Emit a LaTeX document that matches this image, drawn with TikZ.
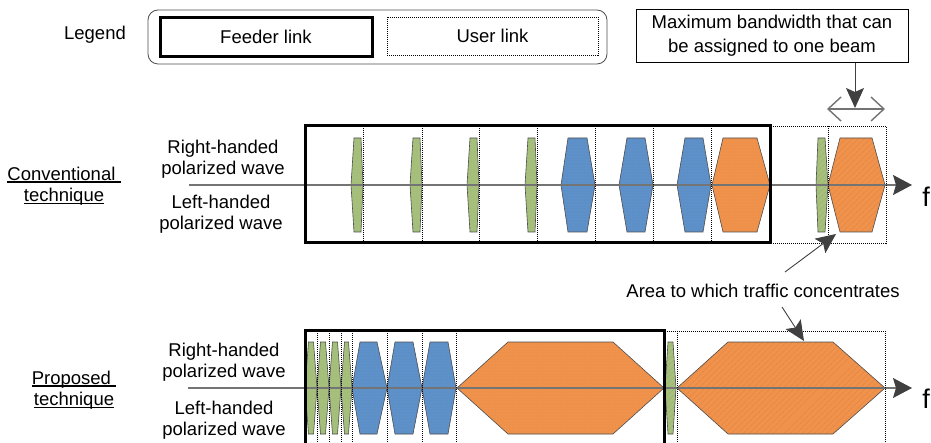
\documentclass[tikz,border=0pt]{standalone}
\usepackage{fontspec}
\setmainfont{Liberation Sans}
\usetikzlibrary{arrows.meta,patterns.meta}

\definecolor{bandgreen}{HTML}{A6C07C}
\definecolor{bandblue}{HTML}{5E91C9}
\definecolor{bandorange}{HTML}{F0924B}
\definecolor{outline}{HTML}{4D4D4D}
\definecolor{axisgray}{HTML}{747474}
\definecolor{tipgray}{HTML}{404040}

% hexagonal frequency band: x1, x2, left inset, right inset, mid y, half height, style
\newcommand\bandshape[7]{%
  \path[#7] (#1,#5) -- ({#1+#3},{#5-#6}) -- ({#2-#4},{#5-#6}) -- (#2,#5)
    -- ({#2-#4},{#5+#6}) -- ({#1+#3},{#5+#6}) -- cycle;}

% thick underline for the row titles
\newcommand\ulabel[1]{\setbox0=\hbox{#1}\rlap{\rule[-2.5pt]{\wd0}{1.2pt}}\box0}

\tikzset{
  lbl/.style={font=\fontsize{18.5}{21.5}\selectfont, align=center, inner sep=0pt},
  feederband/.style={draw=outline, line width=0.6pt, preaction={fill=#1},
    pattern={Dots[distance=3pt,radius=0.45pt]}, pattern color=#1!85!black},
  userband/.style={draw=outline, line width=0.6pt, preaction={fill=#1},
    pattern={Lines[angle=45,distance=4pt,line width=0.8pt]}, pattern color=#1!94!black},
  feederframe/.style={draw=black, line width=3pt},
  userframe/.style={draw=black, line width=0.7pt, dash pattern=on 1pt off 1pt},
  divider/.style={draw=black, line width=0.7pt, dash pattern=on 1pt off 1pt},
  axis/.style={draw=axisgray, line width=1.4pt,
    -{Stealth[length=19pt,width=20pt,inset=3pt,color=tipgray]}},
  pointer/.style={draw=tipgray, line width=0.9pt,
    -{Stealth[length=20pt,width=18pt,inset=4pt]}},
  span/.style={draw=black!55, line width=1.4pt,
    {Straight Barb[length=13pt,width=24pt]}-{Straight Barb[length=13pt,width=24pt]}},
}

\begin{document}
\begin{tikzpicture}[x=1pt,y=-1pt]
\useasboundingbox (0,0) rectangle (931,443);
\clip (0,0) rectangle (931,443);

% ---------------- legend ----------------
\node[lbl] (legend) at (95,35) {Legend};
\node[draw=black!70, line width=0.8pt, rounded corners=10pt,
      minimum width=459pt, minimum height=54pt] (legendframe) at (377.5,37) {};
\node[lbl, feederframe, minimum width=212pt, minimum height=39pt] (feederkey) at (266,37) {Feeder link};
\node[lbl, userframe, minimum width=211pt, minimum height=38pt] (userkey) at (492.5,36) {User link};

% ---------------- conventional technique ----------------
\bandshape{351}{363}{3}{2}{185}{47}{feederband=bandgreen}
\bandshape{410}{422}{3}{2}{185}{47}{feederband=bandgreen}
\bandshape{467}{479}{3}{2}{185}{47}{feederband=bandgreen}
\bandshape{525}{537}{3}{2}{185}{47}{feederband=bandgreen}
\bandshape{561}{595}{7}{8}{185}{47}{feederband=bandblue}
\bandshape{619}{653}{8}{8}{185}{47}{feederband=bandblue}
\bandshape{677}{711}{8}{8}{185}{47}{feederband=bandblue}
\bandshape{712}{770}{11}{13}{185}{47}{feederband=bandorange}
\bandshape{816}{828}{2}{3}{185}{47}{userband=bandgreen}
\bandshape{828}{885}{12}{13}{185}{47}{userband=bandorange}

\coordinate (convstart) at (189,185);
\coordinate (convend) at (912,185);
\draw[axis] (convstart) -- (convend);

\foreach \x in {363,422,479,537,595,653,711,828}
  \draw[divider] (\x,126) -- (\x,243);
\draw[userframe] (770,126) rectangle (886,243);
\draw[feederframe] (305,126) rectangle (770,243);

\node[font=\fontsize{27}{27}\selectfont, inner sep=0pt] (fconv) at (926,197) {f};
\node[lbl] (convtitle) at (64,186) {\ulabel{Conventional\ }\\\ulabel{technique}};
\node[lbl] (convrhcp) at (223,159) {Right-handed\\polarized wave};
\node[lbl] (convlhcp) at (221,214) {Left-handed\\polarized wave};

% ---------------- proposed technique ----------------
\bandshape{305}{317}{3.5}{3.5}{388}{46}{feederband=bandgreen}
\bandshape{317}{329}{3.5}{3.5}{388}{46}{feederband=bandgreen}
\bandshape{329}{341}{3.5}{3.5}{388}{46}{feederband=bandgreen}
\bandshape{341}{352}{3.5}{3.5}{388}{46}{feederband=bandgreen}
\bandshape{352}{387}{8}{10}{388}{46}{feederband=bandblue}
\bandshape{387}{422}{8}{9}{388}{46}{feederband=bandblue}
\bandshape{422}{456}{8}{8}{388}{46}{feederband=bandblue}
\bandshape{457}{664}{51}{51}{388}{46}{feederband=bandorange}
\bandshape{665}{676}{3}{3}{388}{46}{userband=bandgreen}
\bandshape{677}{885}{51}{52}{388}{46}{userband=bandorange}

\coordinate (propstart) at (188,388);
\coordinate (propend) at (912,388);
\draw[axis] (propstart) -- (propend);

\foreach \x in {317,329,341,352,387,422,456,677}
  \draw[divider] (\x,331) -- (\x,446);
\draw[userframe] (664,331) rectangle (885,446);
\draw[feederframe] (305,331) rectangle (664,446);

\node[font=\fontsize{27}{27}\selectfont, inner sep=0pt] (fprop) at (926,399) {f};
\node[lbl] (proptitle) at (74,390) {\ulabel{Proposed\ }\\\ulabel{technique}};
\node[lbl] (proprhcp) at (224,362) {Right-handed\\polarized wave};
\node[lbl] (proplhcp) at (224,420) {Left-handed\\polarized wave};

% ---------------- annotations ----------------
\node[lbl, draw=black, line width=0.8pt, minimum width=272pt, minimum height=53pt,
      font=\fontsize{18.5}{24}\selectfont] (maxbw) at (772,36)
      {Maximum bandwidth that can\\be assigned to one beam};
\coordinate (bwtip) at (855,108);
\coordinate (bwleft) at (827,109);
\coordinate (bwright) at (885,109);
\draw[span] (bwleft) -- (bwright);
\draw[pointer] (maxbw.south -| bwtip) -- (bwtip);

\node[lbl] (area) at (763,291) {Area to which traffic concentrates};
\coordinate (areaupfrom) at (785,272);
\coordinate (areauptip) at (836,234);
\coordinate (areadownfrom) at (782,307);
\coordinate (areadowntip) at (804,341);
\draw[pointer] (areaupfrom) -- (areauptip);
\draw[pointer] (areadownfrom) -- (areadowntip);
\end{tikzpicture}
\end{document}
